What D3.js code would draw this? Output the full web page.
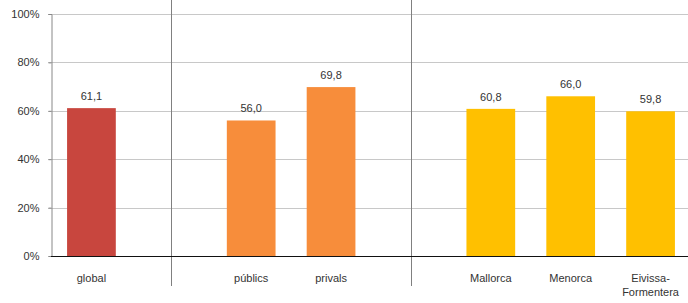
<!DOCTYPE html>
<html>
<head>
<meta charset="utf-8">
<script src="https://cdn.jsdelivr.net/npm/d3@7"></script>
<style>
  body { margin: 0; background: #fff; }
  text { font-family: "Liberation Sans", Arial, sans-serif; }
</style>
</head>
<body>
<div id="chart"></div>
<script>
const width = 688;
const height = 303;
const margin = { top: 14, right: -2, bottom: 47, left: 51 };

// slots on the x band, sep = empty separator slot
const slots = ["global", "sep1", "públics", "privals", "sep2", "Mallorca", "Menorca", "Eivissa-Formentera"];
const categories = ["global", "públics", "privals", "Mallorca", "Menorca", "Eivissa-Formentera"];
const values = [61.1, 56.0, 69.8, 60.8, 66.0, 59.8];
const groups = ["total", "titularitat", "titularitat", "illa", "illa", "illa"];
const separators = ["sep1", "sep2"];
const yTicks = [0, 20, 40, 60, 80, 100];

const colors = { total: "#c8463e", titularitat: "#f78d3b", illa: "#ffc000" };

const data = categories.map((c, i) => ({ cat: c, value: values[i], group: groups[i] }));

const svg = d3.select("#chart").append("svg")
  .attr("width", width)
  .attr("height", height);

const x = d3.scaleBand()
  .domain(slots)
  .range([margin.left + 0.5, width - margin.right + 0.5])
  .paddingInner(0.39)
  .paddingOuter(0.195);

const y = d3.scaleLinear()
  .domain([0, 100])
  .range([height - margin.bottom, margin.top]);

// gridlines
svg.append("g")
  .selectAll("line")
  .data(yTicks.filter(d => d > 0))
  .enter()
  .append("line")
  .attr("x1", margin.left - 3)
  .attr("x2", width)
  .attr("y1", d => Math.round(y(d)) + 0.5)
  .attr("y2", d => Math.round(y(d)) + 0.5)
  .attr("stroke", "#c8c8c8")
  .attr("stroke-width", 1);

// y axis
const yAxis = svg.append("g")
  .attr("transform", `translate(${margin.left + 0.5},0)`)
  .call(d3.axisLeft(y).tickValues(yTicks).tickFormat(d => d + "%").tickSize(3).tickPadding(9));
yAxis.select(".domain").attr("stroke", "#888");
yAxis.selectAll(".tick line").attr("stroke", "#888");
yAxis.selectAll("text").attr("font-size", 11).attr("fill", "#333");

// separators
svg.append("g")
  .selectAll("line")
  .data(separators)
  .enter()
  .append("line")
  .attr("x1", d => Math.round(x(d) + x.bandwidth() / 2) + 0.5)
  .attr("x2", d => Math.round(x(d) + x.bandwidth() / 2) + 0.5)
  .attr("y1", 0)
  .attr("y2", 286)
  .attr("stroke", "#808080")
  .attr("stroke-width", 1);

// bars
svg.append("g")
  .selectAll("rect")
  .data(data)
  .enter()
  .append("rect")
  .attr("x", d => x(d.cat))
  .attr("y", d => y(d.value))
  .attr("width", x.bandwidth())
  .attr("height", d => y(0) - y(d.value))
  .attr("fill", d => colors[d.group]);

// value labels
svg.append("g")
  .selectAll("text")
  .data(data)
  .enter()
  .append("text")
  .attr("x", d => x(d.cat) + x.bandwidth() / 2)
  .attr("y", d => y(d.value) - 8)
  .attr("text-anchor", "middle")
  .attr("font-size", 11)
  .attr("fill", "#333")
  .text(d => d.value.toFixed(1).replace(".", ","));

// x axis line
svg.append("line")
  .attr("x1", margin.left)
  .attr("x2", width)
  .attr("y1", Math.round(y(0)) + 0.5)
  .attr("y2", Math.round(y(0)) + 0.5)
  .attr("stroke", "#111")
  .attr("stroke-width", 1.2);

// category labels
const xLabels = svg.append("g")
  .selectAll("text")
  .data(data)
  .enter()
  .append("text")
  .attr("x", d => x(d.cat) + x.bandwidth() / 2)
  .attr("y", 282)
  .attr("text-anchor", "middle")
  .attr("font-size", 11)
  .attr("fill", "#333");

xLabels.each(function (d) {
  const parts = d.cat === "Eivissa-Formentera" ? ["Eivissa-", "Formentera"] : [d.cat];
  const t = d3.select(this);
  parts.forEach((p, i) => {
    t.append("tspan")
      .attr("x", x(d.cat) + x.bandwidth() / 2)
      .attr("dy", i === 0 ? 0 : 14)
      .text(p);
  });
});
</script>
</body>
</html>
